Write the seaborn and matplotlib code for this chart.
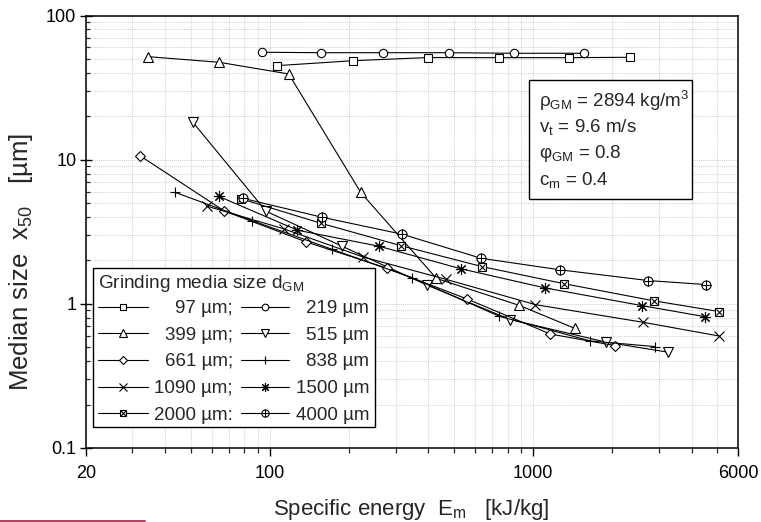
import numpy as np
import pandas as pd
import matplotlib
matplotlib.use("Agg")
import matplotlib.pyplot as plt
import seaborn as sns
from matplotlib.lines import Line2D
from matplotlib.patches import Rectangle
from matplotlib.ticker import FixedLocator, FixedFormatter, NullFormatter

# ---------------- data ----------------
sizes = ["97", "219", "399", "515", "661", "838", "1090", "1500", "2000", "4000"]

E_97 = [106.6, 207.4, 398.8, 744.6, 1370, 2324]
x50_97 = [44.9, 48.6, 51.1, 51.0, 51.0, 51.3]

E_219 = [93.0, 155.9, 269.7, 479.3, 849.0, 1554]
x50_219 = [55.6, 55.2, 55.2, 55.2, 54.7, 54.7]

E_399 = [34.5, 64.0, 117.8, 221.3, 428.9, 886.2, 1436]
x50_399 = [51.8, 47.4, 39.3, 5.92, 1.50, 0.975, 0.677]

E_515 = [50.8, 96.6, 187.8, 394.3, 819.8, 1895, 3252]
x50_515 = [18.3, 4.39, 2.51, 1.35, 0.777, 0.542, 0.462]

E_661 = [32.2, 67.0, 137.1, 277.3, 561.1, 1163, 2050]
x50_661 = [10.6, 4.41, 2.69, 1.77, 1.08, 0.617, 0.513]

E_838 = [43.5, 85.4, 172.1, 345.7, 740.7, 1647, 2910]
x50_838 = [5.94, 3.78, 2.39, 1.52, 0.822, 0.553, 0.505]

E_1090 = [57.4, 113.0, 226.4, 465.6, 1020, 2613, 5066]
x50_1090 = [4.77, 3.31, 2.11, 1.48, 0.987, 0.745, 0.599]

E_1500 = [63.8, 127.2, 259.3, 531.5, 1108, 2590, 4480]
x50_1500 = [5.57, 3.24, 2.51, 1.75, 1.29, 0.972, 0.815]

E_2000 = [77.4, 156.3, 314.9, 641.0, 1308, 2867, 5096]
x50_2000 = [5.36, 3.62, 2.53, 1.81, 1.38, 1.05, 0.883]

E_4000 = [78.7, 157.3, 317.7, 634.3, 1269, 2737, 4548]
x50_4000 = [5.40, 3.99, 3.04, 2.07, 1.72, 1.45, 1.36]

legend_labels = ["97 µm;", "219 µm", "399 µm;", "515 µm", "661 µm;", "838 µm",
                 "1090 µm;", "1500 µm", "2000 µm:", "4000 µm"]

x_ticks = [20, 100, 1000, 6000]
x_ticklabels = ["20", "100", "1000", "6000"]
y_ticks = [0.1, 1, 10, 100]
y_ticklabels = ["0.1", "1", "10", "100"]

info_lines = [r"ρ$_{\rm GM}$ = 2894 kg/m$^{3}$", r"v$_{\rm t}$ = 9.6 m/s",
              r"φ$_{\rm GM}$ = 0.8", r"c$_{\rm m}$ = 0.4"]

E_all = [E_97, E_219, E_399, E_515, E_661, E_838, E_1090, E_1500, E_2000, E_4000]
x_all = [x50_97, x50_219, x50_399, x50_515, x50_661, x50_838, x50_1090, x50_1500,
         x50_2000, x50_4000]

frames = []
for s, e, v in zip(sizes, E_all, x_all):
    frames.append(pd.DataFrame({"size": s, "E": e, "x50": v}))
df = pd.concat(frames, ignore_index=True)

# ---------------- style ----------------
sns.set_style("ticks")
plt.rcParams["font.family"] = ["Liberation Sans", "DejaVu Sans"]
plt.rcParams["mathtext.fontset"] = "custom"
plt.rcParams["mathtext.rm"] = "Liberation Sans"
plt.rcParams["mathtext.it"] = "Liberation Sans:italic"
plt.rcParams["mathtext.bf"] = "Liberation Sans:bold"

W, H = 761, 522
fig = plt.figure(figsize=(W / 100, H / 100), dpi=100)
L, R, T, B = 86, 738, 15.5, 448
ax = fig.add_axes([L / W, 1 - B / H, (R - L) / W, (B - T) / H])
ax.set_xscale("log")
ax.set_yscale("log")

def fx(px):
    return px / W

def fy(py):
    return 1 - py / H

# marker spec: (outer marker, size, inner marker, inner size)
specs = {
    "97": ("s", 6.0, None, 0),
    "219": ("o", 6.0, None, 0),
    "399": ("^", 7.5, None, 0),
    "515": ("v", 7.5, None, 0),
    "661": ("D", 5.5, None, 0),
    "838": ("+", 7.0, None, 0),
    "1090": ("x", 6.5, None, 0),
    "1500": ((8, 2, 0), 8.0, None, 0),
    "2000": ("s", 6.0, "x", 5.0),
    "4000": ("o", 6.5, "+", 6.5),
}

for s in sizes:
    sub = df[df["size"] == s]
    m, ms, mi, msi = specs[s]
    sns.lineplot(data=sub, x="E", y="x50", ax=ax, color="black", lw=0.8,
                 marker=m, markersize=ms, markerfacecolor="white",
                 markeredgecolor="black", markeredgewidth=0.8,
                 sort=False, estimator=None, legend=False)
    if mi is not None:
        sns.lineplot(data=sub, x="E", y="x50", ax=ax, color="black",
                     linestyle="none", marker=mi, markersize=msi,
                     markeredgecolor="black", markeredgewidth=0.8,
                     sort=False, estimator=None, legend=False)

ax.set_xlim(20, 6000)
ax.set_ylim(0.1, 100)

ax.xaxis.set_major_locator(FixedLocator(x_ticks))
ax.xaxis.set_major_formatter(FixedFormatter(x_ticklabels))
xminor = [v * 10 ** d for d in range(1, 4) for v in range(2, 10)]
xminor = [v for v in xminor if 20 < v < 6000 and v not in x_ticks]
ax.xaxis.set_minor_locator(FixedLocator(xminor))
ax.xaxis.set_minor_formatter(NullFormatter())

ax.yaxis.set_major_locator(FixedLocator(y_ticks))
ax.yaxis.set_major_formatter(FixedFormatter(y_ticklabels))
yminor = [v * 10.0 ** d for d in range(-1, 2) for v in range(2, 10)]
ax.yaxis.set_minor_locator(FixedLocator(yminor))
ax.yaxis.set_minor_formatter(NullFormatter())

ax.grid(True, which="both", linestyle=(0, (1, 1.5)), color="#bdbdbd", lw=0.6)
ax.set_axisbelow(True)

for sp in ax.spines.values():
    sp.set_linewidth(1.1)
    sp.set_color("black")

ax.tick_params(axis="x", which="major", direction="out", length=6, width=1.0,
               labelsize=13, pad=6, colors="black")
ax.tick_params(axis="x", which="minor", direction="out", length=3.5, width=0.9)
ax.tick_params(axis="y", which="major", direction="inout", length=8, width=1.0,
               labelsize=13, pad=3, colors="black")
ax.tick_params(axis="y", which="minor", direction="in", length=3, width=0.9)

ax.set_xlabel("")
ax.set_ylabel("")
fig.text(fx(411.5), fy(509), r"Specific energy  E$_{\rm m}$   [kJ/kg]", fontsize=16,
         ha="center", va="center")
fig.text(fx(21), fy(262.5), r"Median size  x$_{50}$   [µm]", fontsize=18.5,
         ha="center", va="center", rotation=90)

# ---------------- info box ----------------
fig.add_artist(Rectangle((fx(529), fy(199.3)), fx(692) - fx(529), fy(80) - fy(199.3),
                         transform=fig.transFigure, facecolor="white",
                         edgecolor="black", lw=1.0, zorder=3))
for line, yb in zip(info_lines, [107.3, 131.7, 157.5, 184.5]):
    fig.text(fx(539), fy(yb), line, fontsize=13.5, va="baseline", ha="left", zorder=4)

# ---------------- legend box (manual) ----------------
fig.add_artist(Rectangle((fx(93), fy(426.7)), fx(375) - fx(93), fy(268.3) - fy(426.7),
                         transform=fig.transFigure, facecolor="white",
                         edgecolor="black", lw=1.0, zorder=3))
fig.text(fx(98), fy(288), r"Grinding media size d$_{\rm GM}$", fontsize=13.7,
         va="baseline", ha="left", zorder=4)

row_y = [306.7, 333.3, 360.0, 386.7, 413.3]
cols = [(98, 148, 233), (241, 289, 369)]
for i, s in enumerate(sizes):
    r, c = divmod(i, 2)
    x0, x1, xr = cols[c]
    y = row_y[r]
    m, ms, mi, msi = specs[s]
    fig.add_artist(Line2D([fx(x0), fx(x1)], [fy(y), fy(y)], transform=fig.transFigure,
                          color="black", lw=0.8, zorder=4))
    fig.add_artist(Line2D([fx((x0 + x1) / 2)], [fy(y)], transform=fig.transFigure,
                          linestyle="none", marker=m, markersize=ms * 0.8,
                          markerfacecolor="white", markeredgecolor="black",
                          markeredgewidth=0.8, zorder=5))
    if mi is not None:
        fig.add_artist(Line2D([fx((x0 + x1) / 2)], [fy(y)], transform=fig.transFigure,
                              linestyle="none", marker=mi, markersize=msi * 0.8,
                              markeredgecolor="black", markeredgewidth=0.8, zorder=6))
    fig.text(fx(xr), fy(y + 6.5), legend_labels[i], fontsize=13.5, va="baseline",
             ha="right", zorder=4)

# thin red rule at bottom-left (as in the source page)
fig.add_artist(Line2D([0, fx(145)], [fy(521.3), fy(521.3)], transform=fig.transFigure,
                      color="#a8324e", lw=1.3))

fig.savefig("out.png", dpi=100)
